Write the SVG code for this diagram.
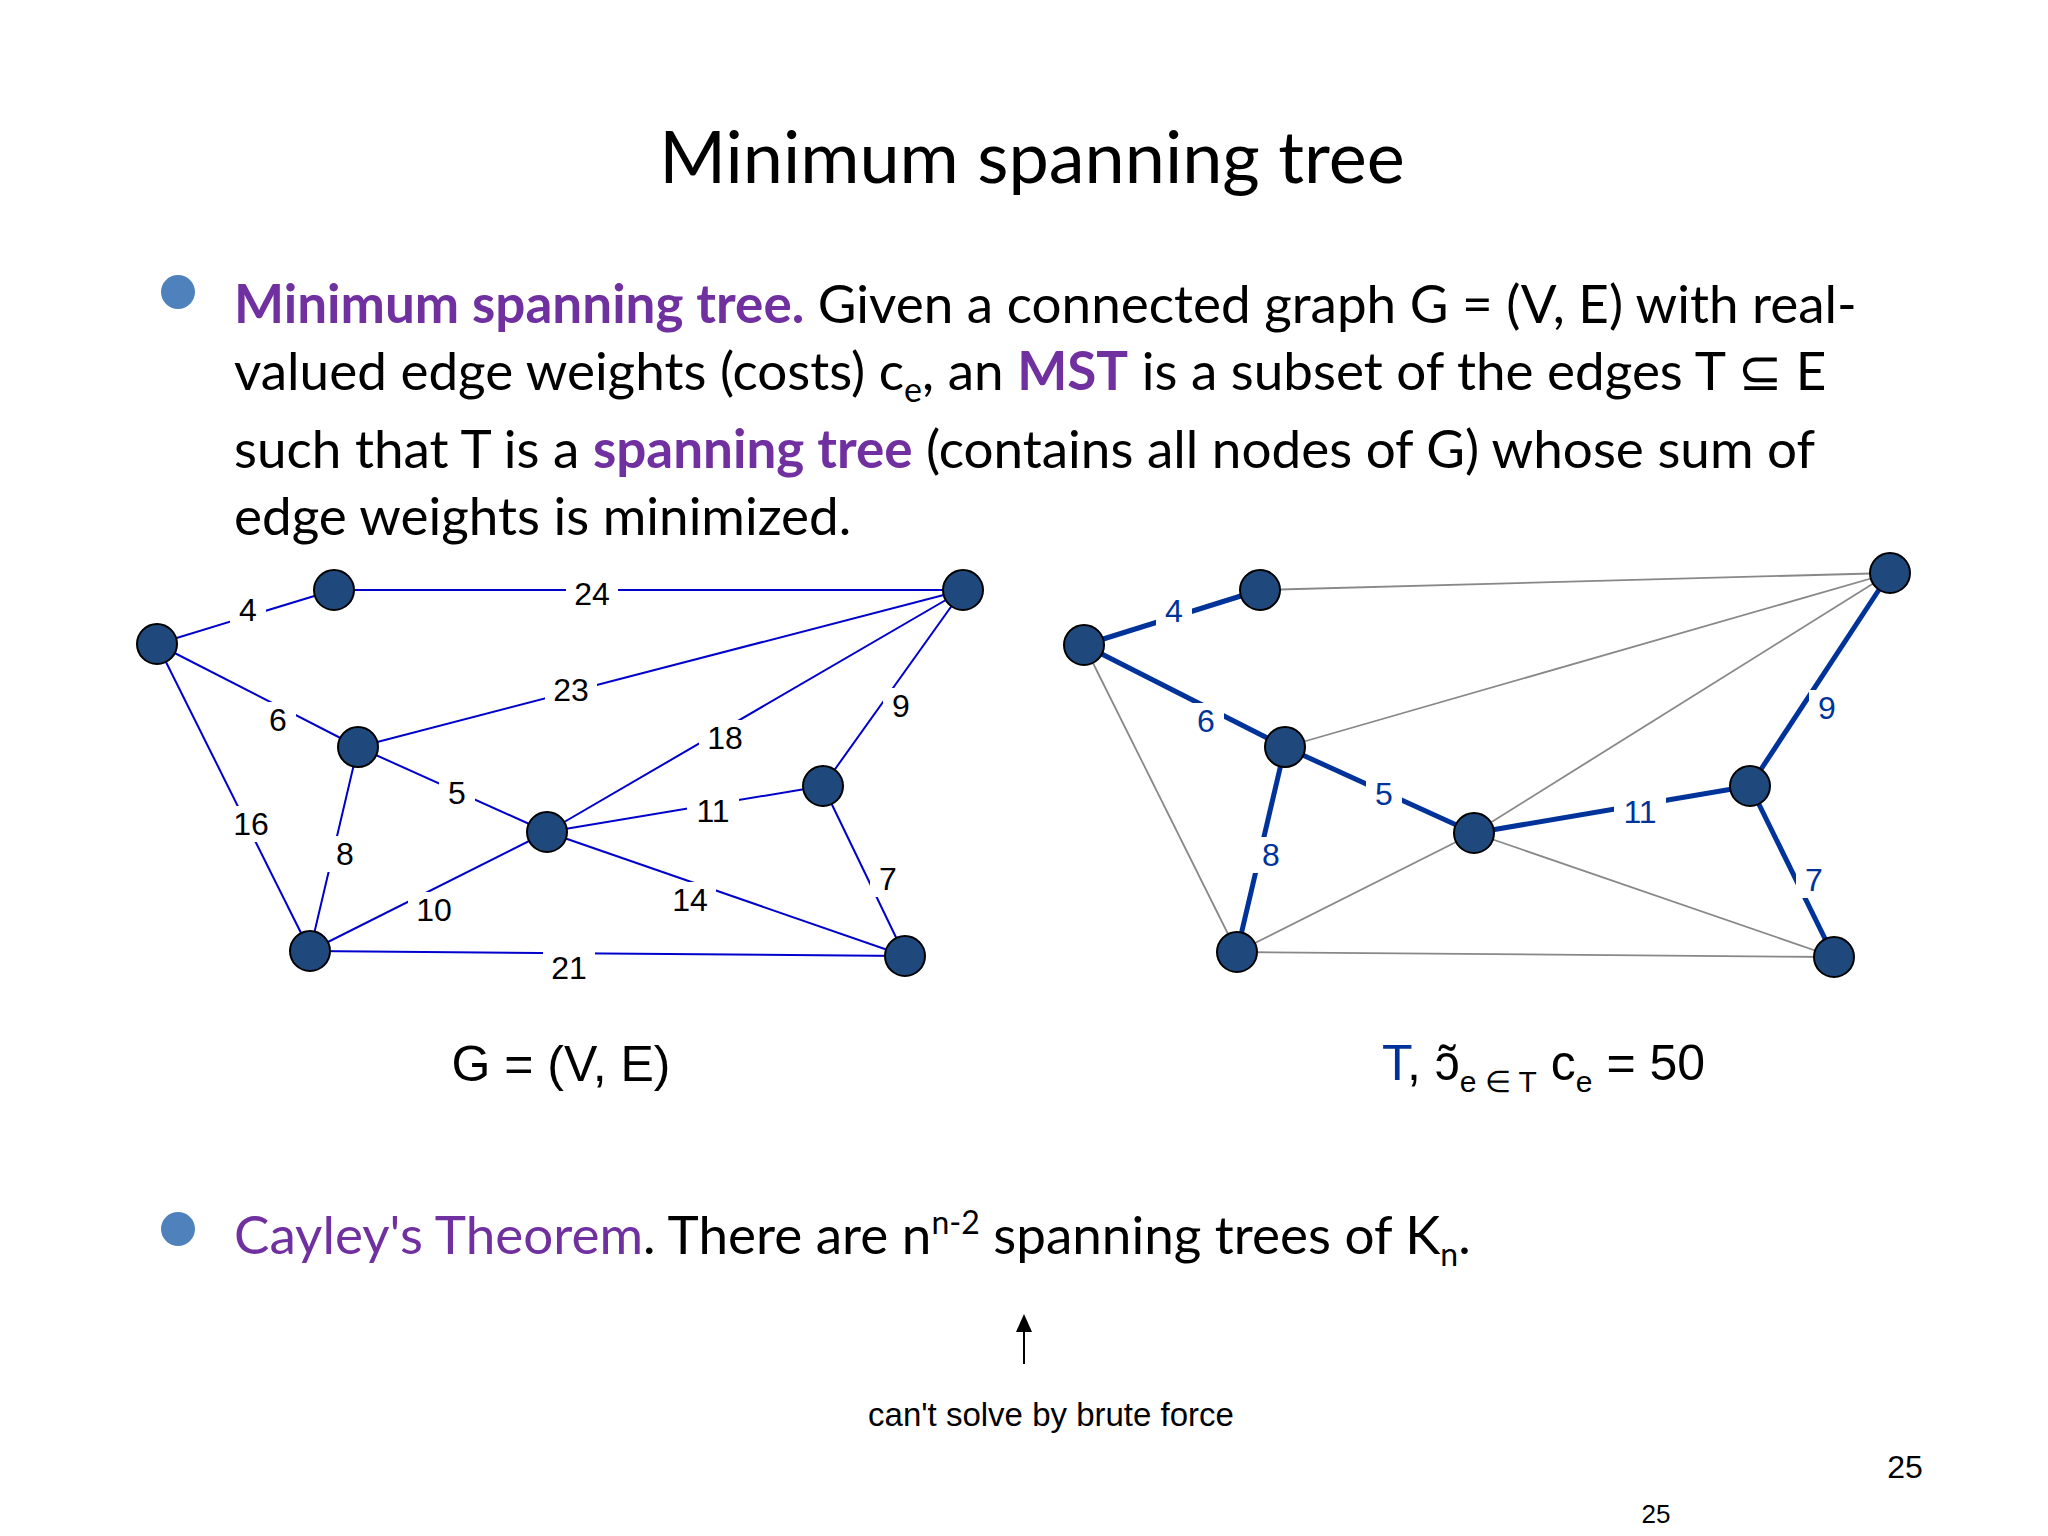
<svg xmlns="http://www.w3.org/2000/svg" width="2048" height="1536" viewBox="0 0 2048 1536" xml:space="preserve">
<defs>
<style>
.b{font-family:Lato,"Open Sans",sans-serif;font-size:53px;fill:#000}
.p{fill:#7030A0;font-weight:bold}
.n{fill:#1F497D;stroke:#000;stroke-width:2}
.e{stroke:#0000CC;stroke-width:2;fill:none}
.g{stroke:#888;stroke-width:1.8;fill:none}
.t{stroke:#003399;stroke-width:5;fill:none}
.l{font-family:"Liberation Sans",Arial,sans-serif;font-size:32px;text-anchor:middle;dominant-baseline:central}
.lb{fill:#003399}
.bg{fill:#fff}
.a{font-family:"Liberation Sans",Arial,sans-serif}
</style>
<marker id="ar" markerWidth="10" markerHeight="10" refX="5" refY="5" orient="auto"><path d="M0,1 L9,5 L0,9 z" fill="#000"/></marker>
</defs>
<rect width="2048" height="1536" fill="#fff"/>
<text x="1032" y="183" text-anchor="middle" style="font-family:Lato,sans-serif;font-size:72px">Minimum spanning tree</text>
<circle cx="178" cy="292" r="17" fill="#4F81BD"/>
<text class="b" x="234" y="323"><tspan class="p">Minimum spanning tree.</tspan>  Given a connected graph G = (V, E) with real-</text>
<text class="b" x="234" y="390">valued edge weights (costs) c<tspan font-size="34" dy="12">e</tspan><tspan dy="-12">, an </tspan><tspan class="p">MST</tspan> is a subset of the edges T ⊆ E</text>
<text class="b" x="234" y="468">such that T is a <tspan class="p">spanning tree</tspan> (contains all nodes of G) whose sum of</text>
<text class="b" x="234" y="535">edge weights is minimized.</text>
<g id="connectors">
<line class="e" x1="157" y1="644" x2="334" y2="590"/>
<line class="e" x1="334" y1="590" x2="963" y2="590"/>
<line class="e" x1="157" y1="644" x2="358" y2="747"/>
<line class="e" x1="358" y1="747" x2="963" y2="590"/>
<line class="e" x1="547" y1="832" x2="963" y2="590"/>
<line class="e" x1="963" y1="590" x2="823" y2="786"/>
<line class="e" x1="358" y1="747" x2="547" y2="832"/>
<line class="e" x1="547" y1="832" x2="823" y2="786"/>
<line class="e" x1="823" y1="786" x2="905" y2="956"/>
<line class="e" x1="157" y1="644" x2="310" y2="951"/>
<line class="e" x1="358" y1="747" x2="310" y2="951"/>
<line class="e" x1="310" y1="951" x2="547" y2="832"/>
<line class="e" x1="547" y1="832" x2="905" y2="956"/>
<line class="e" x1="310" y1="951" x2="905" y2="956"/>
<line class="g" x1="1260" y1="590" x2="1890" y2="573"/>
<line class="g" x1="1285" y1="747" x2="1890" y2="573"/>
<line class="g" x1="1474" y1="833" x2="1890" y2="573"/>
<line class="g" x1="1084" y1="645" x2="1237" y2="952"/>
<line class="g" x1="1237" y1="952" x2="1474" y2="833"/>
<line class="g" x1="1474" y1="833" x2="1834" y2="957"/>
<line class="g" x1="1237" y1="952" x2="1834" y2="957"/>
<line class="t" x1="1084" y1="645" x2="1260" y2="590"/>
<line class="t" x1="1084" y1="645" x2="1285" y2="747"/>
<line class="t" x1="1285" y1="747" x2="1474" y2="833"/>
<line class="t" x1="1285" y1="747" x2="1237" y2="952"/>
<line class="t" x1="1474" y1="833" x2="1750" y2="786"/>
<line class="t" x1="1750" y1="786" x2="1890" y2="573"/>
<line class="t" x1="1750" y1="786" x2="1834" y2="957"/>
</g>
<g id="labels">
<g class="l">
<rect class="bg" x="230" y="592" width="36" height="36"/><text x="248" y="610">4</text>
<rect class="bg" x="566" y="576" width="52" height="36"/><text x="592" y="594">24</text>
<rect class="bg" x="260" y="702" width="36" height="36"/><text x="278" y="720">6</text>
<rect class="bg" x="545" y="672" width="52" height="36"/><text x="571" y="690">23</text>
<rect class="bg" x="699" y="720" width="52" height="36"/><text x="725" y="738">18</text>
<rect class="bg" x="883" y="688" width="36" height="36"/><text x="901" y="706">9</text>
<rect class="bg" x="439" y="775" width="36" height="36"/><text x="457" y="793">5</text>
<rect class="bg" x="687" y="793" width="52" height="36"/><text x="713" y="811">11</text>
<rect class="bg" x="870" y="861" width="36" height="36"/><text x="888" y="879">7</text>
<rect class="bg" x="225" y="806" width="52" height="36"/><text x="251" y="824">16</text>
<rect class="bg" x="327" y="836" width="36" height="36"/><text x="345" y="854">8</text>
<rect class="bg" x="408" y="892" width="52" height="36"/><text x="434" y="910">10</text>
<rect class="bg" x="664" y="882" width="52" height="36"/><text x="690" y="900">14</text>
<rect class="bg" x="543" y="950" width="52" height="36"/><text x="569" y="968">21</text>
</g>
<g class="l lb">
<rect class="bg" x="1156" y="593" width="36" height="36"/><text x="1174" y="611">4</text>
<rect class="bg" x="1188" y="703" width="36" height="36"/><text x="1206" y="721">6</text>
<rect class="bg" x="1366" y="776" width="36" height="36"/><text x="1384" y="794">5</text>
<rect class="bg" x="1253" y="837" width="36" height="36"/><text x="1271" y="855">8</text>
<rect class="bg" x="1614" y="794" width="52" height="36"/><text x="1640" y="812">11</text>
<rect class="bg" x="1809" y="690" width="36" height="36"/><text x="1827" y="708">9</text>
<rect class="bg" x="1796" y="862" width="36" height="36"/><text x="1814" y="880">7</text>
</g>
</g>
<g id="node-A"><circle class="n" cx="157" cy="644" r="20"/></g>
<g id="node-B"><circle class="n" cx="334" cy="590" r="20"/></g>
<g id="node-C"><circle class="n" cx="963" cy="590" r="20"/></g>
<g id="node-D"><circle class="n" cx="358" cy="747" r="20"/></g>
<g id="node-E"><circle class="n" cx="547" cy="832" r="20"/></g>
<g id="node-F"><circle class="n" cx="823" cy="786" r="20"/></g>
<g id="node-G"><circle class="n" cx="310" cy="951" r="20"/></g>
<g id="node-H"><circle class="n" cx="905" cy="956" r="20"/></g>
<g id="node-A2"><circle class="n" cx="1084" cy="645" r="20"/></g>
<g id="node-B2"><circle class="n" cx="1260" cy="590" r="20"/></g>
<g id="node-C2"><circle class="n" cx="1890" cy="573" r="20"/></g>
<g id="node-D2"><circle class="n" cx="1285" cy="747" r="20"/></g>
<g id="node-E2"><circle class="n" cx="1474" cy="833" r="20"/></g>
<g id="node-F2"><circle class="n" cx="1750" cy="786" r="20"/></g>
<g id="node-G2"><circle class="n" cx="1237" cy="952" r="20"/></g>
<g id="node-H2"><circle class="n" cx="1834" cy="957" r="20"/></g>
<text class="a" x="561" y="1081" font-size="50" text-anchor="middle">G = (V, E)</text>
<text class="a" x="1382" y="1080" font-size="50"><tspan fill="#003399">T</tspan>,   ɔ̃<tspan font-size="30" dy="12">e ∈ T</tspan><tspan dy="-12"> c</tspan><tspan font-size="30" dy="12">e</tspan><tspan dy="-12"> = 50</tspan></text>
<circle cx="178" cy="1229" r="17" fill="#4F81BD"/>
<text class="b" x="234" y="1254"><tspan fill="#7030A0">Cayley's Theorem</tspan>.  There are n<tspan font-size="32" dy="-20">n-2</tspan><tspan dy="20"> spanning trees of K</tspan><tspan font-size="32" dy="12">n</tspan><tspan dy="-12">.</tspan></text>
<g id="arrow"><line x1="1024" y1="1364" x2="1024" y2="1322" stroke="#000" stroke-width="2" marker-end="url(#ar)"/></g>
<text class="a" x="1051" y="1426" font-size="33" text-anchor="middle">can't solve by brute force</text>
<text class="a" x="1905" y="1478" font-size="32" text-anchor="middle">25</text>
<text class="a" x="1656" y="1523" font-size="26" text-anchor="middle">25</text>
</svg>
